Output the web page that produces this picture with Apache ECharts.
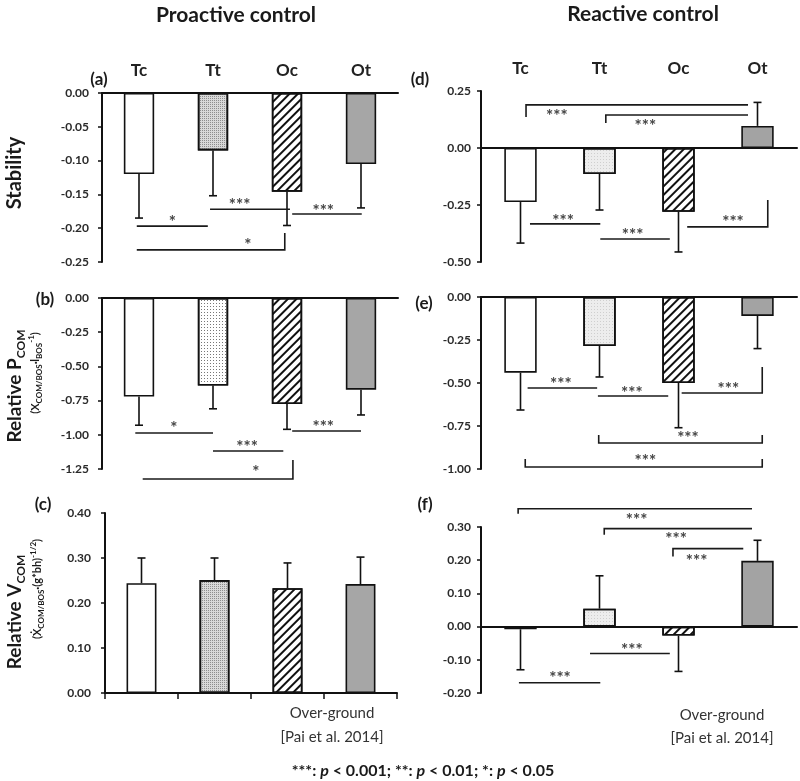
<!DOCTYPE html>
<html><head><meta charset="utf-8">
<script src="https://cdn.jsdelivr.net/npm/echarts@6/dist/echarts.min.js"></script>
<style>html,body{margin:0;padding:0;background:#fff}#c{width:800px;height:781px}</style>
</head><body><div id="c"></div>
<script>
// ---------------- DATA ----------------
const categories = ['Tc', 'Tt', 'Oc', 'Ot'];

// bar means and error-bar end points (mean ± SD, drawn away from zero)
const stabilityPro    = [-0.120, -0.085, -0.146, -0.105];
const stabilityProErr = [-0.185, -0.152, -0.196, -0.170];
const pcomPro         = [-0.720, -0.640, -0.775, -0.670];
const pcomProErr      = [-0.930, -0.810, -0.960, -0.855];
const vcomPro         = [0.244, 0.251, 0.233, 0.242];
const vcomProErr      = [0.300, 0.300, 0.289, 0.302];
const stabilityRe     = [-0.237, -0.114, -0.280, 0.097];
const stabilityReErr  = [-0.417, -0.272, -0.456, 0.200];
const pcomRe          = [-0.440, -0.285, -0.500, -0.110];
const pcomReErr       = [-0.657, -0.465, -0.760, -0.300];
const vcomRe          = [-0.008, 0.054, -0.027, 0.198];
const vcomReErr       = [-0.130, 0.153, -0.135, 0.260];

// significance brackets: [xStart, xEnd, y, leftTickEnd, rightTickEnd, labelX, labelY, label]
// x in category units (0 = Tc ... 3 = Ot), y in axis units
const sigA = [
  [-0.03, 0.93, -0.197, -0.197, -0.197, 0.45, -0.185, '*'],
  [0.96, 2.04, -0.172, -0.172, -0.172, 1.36, -0.161, '***'],
  [2.07, 3.01, -0.179, -0.179, -0.179, 2.49, -0.170, '***'],
  [-0.03, 1.97, -0.232, -0.232, -0.207, 1.47, -0.219, '*']
];
const sigB = [
  [-0.05, 1.00, -0.987, -0.987, -0.987, 0.47, -0.928, '*'],
  [1.00, 1.95, -1.118, -1.118, -1.118, 1.46, -1.067, '***'],
  [2.07, 3.00, -0.972, -0.972, -0.972, 2.49, -0.921, '***'],
  [0.05, 2.08, -1.323, -1.323, -1.184, 1.58, -1.250, '*']
];
const sigC = [];
const sigD = [
  [0.07, 2.88, 0.189, 0.136, 0.189, 0.46, 0.154, '***'],
  [1.08, 2.88, 0.145, 0.110, 0.145, 1.58, 0.110, '***'],
  [0.12, 1.01, -0.333, -0.333, -0.333, 0.54, -0.307, '***'],
  [1.01, 1.89, -0.399, -0.399, -0.399, 1.42, -0.368, '***'],
  [2.11, 3.13, -0.346, -0.346, -0.228, 2.69, -0.311, '***']
];
const sigE = [
  [0.09, 0.97, -0.529, -0.529, -0.529, 0.51, -0.488, '***'],
  [0.98, 1.87, -0.576, -0.576, -0.576, 1.41, -0.535, '***'],
  [2.04, 3.06, -0.558, -0.558, -0.407, 2.63, -0.517, '***'],
  [0.99, 3.06, -0.849, -0.802, -0.802, 2.12, -0.797, '***'],
  [0.06, 3.06, -0.988, -0.942, -0.942, 1.58, -0.936, '***']
];
const sigF = [
  [-0.03, 2.93, 0.355, 0.340, 0.355, 1.47, 0.331, '***'],
  [1.06, 2.93, 0.295, 0.277, 0.295, 1.97, 0.274, '***'],
  [1.93, 2.82, 0.235, 0.211, 0.235, 2.23, 0.208, '***'],
  [0.88, 1.89, -0.081, -0.081, -0.081, 1.41, -0.060, '***'],
  [-0.02, 1.01, -0.169, -0.169, -0.169, 0.50, -0.145, '***']
];

// ---------------- STYLE ----------------
const FONT = 'Lato, "Open Sans", sans-serif';
const INK = '#111';
const hatch = {symbol: 'rect', symbolSize: 1, dashArrayX: [1, 0], dashArrayY: [2, 4], rotation: -Math.PI / 4, color: '#111'};
const dotsDense = {symbol: 'rect', symbolSize: 1, dashArrayX: [1, 1], dashArrayY: [1, 1], color: 'rgba(80,80,80,0.55)'};
const dotsSparse = {symbol: 'rect', symbolSize: 1, dashArrayX: [1, 2], dashArrayY: [1, 2], color: '#777'};
const dotsLight = {symbol: 'rect', symbolSize: 1, dashArrayX: [1, 2], dashArrayY: [1, 2], color: '#cfcfcf'};

const fillsDense = [{color: '#fff'}, {color: '#d8d8d8', decal: dotsDense}, {color: '#fff', decal: hatch}, {color: '#a6a6a6'}];
const fillsSparse = [{color: '#fff'}, {color: '#fff', decal: dotsSparse}, {color: '#fff', decal: hatch}, {color: '#a6a6a6'}];
const fillsLight = [{color: '#fff'}, {color: '#ededed', decal: dotsLight}, {color: '#fff', decal: hatch}, {color: '#a3a3a3'}];

const panels = [
  {grid: {left: 102, top: 93, width: 296, height: 169}, min: -0.25, max: 0, interval: 0.05, means: stabilityPro, errs: stabilityProErr, sig: sigA, fills: fillsDense, topLabels: true, xTicks: false, labelMargin: 13},
  {grid: {left: 102, top: 298, width: 296, height: 171}, min: -1.25, max: 0, interval: 0.25, means: pcomPro, errs: pcomProErr, sig: sigB, fills: fillsSparse, topLabels: false, xTicks: false, labelMargin: 13},
  {grid: {left: 105, top: 513, width: 292, height: 180}, min: 0, max: 0.4, interval: 0.1, means: vcomPro, errs: vcomProErr, sig: sigC, fills: fillsDense, topLabels: false, xTicks: true, labelMargin: 14},
  {grid: {left: 481, top: 91, width: 316, height: 171}, min: -0.5, max: 0.25, interval: 0.25, means: stabilityRe, errs: stabilityReErr, sig: sigD, fills: fillsLight, topLabels: true, xTicks: false, labelMargin: 10},
  {grid: {left: 481, top: 297, width: 316, height: 172}, min: -1.0, max: 0, interval: 0.25, means: pcomRe, errs: pcomReErr, sig: sigE, fills: fillsLight, topLabels: false, xTicks: false, labelMargin: 10},
  {grid: {left: 481, top: 527, width: 316, height: 166}, min: -0.2, max: 0.3, interval: 0.1, means: vcomRe, errs: vcomReErr, sig: sigF, fills: fillsLight, topLabels: false, xTicks: false, labelMargin: 10}
];

const grids = [], xAxes = [], yAxes = [], series = [];
panels.forEach((p, i) => {
  grids.push(Object.assign({containLabel: false}, p.grid));
  // main category axis (line at zero)
  xAxes.push({
    type: 'category', gridIndex: i, data: categories, boundaryGap: true,
    axisLine: {show: true, onZero: true, lineStyle: {color: INK, width: 2}},
    axisTick: {show: p.xTicks, length: 6, lineStyle: {color: INK, width: 1.5}},
    axisLabel: {show: false}, splitLine: {show: false}
  });
  // hidden value axis used to place significance brackets
  xAxes.push({type: 'value', gridIndex: i, min: -0.5, max: 3.5, show: false, axisLine: {onZero: false}});
  // top labels
  xAxes.push({
    type: 'category', gridIndex: i, data: categories, position: 'top', show: p.topLabels,
    axisLine: {show: false, onZero: false}, axisTick: {show: false},
    axisLabel: {margin: 14, fontSize: 17, fontWeight: 'bold', color: '#222', fontFamily: FONT}
  });
  yAxes.push({
    type: 'value', gridIndex: i, min: p.min, max: p.max, interval: p.interval,
    axisLine: {show: true, onZero: false, lineStyle: {color: INK, width: 2}},
    axisTick: {show: true, length: 4, lineStyle: {color: INK, width: 1.5}},
    splitLine: {show: false},
    axisLabel: {formatter: v => v.toFixed(2), fontSize: 12, fontWeight: 'bold', color: '#2a2a2a', fontFamily: FONT, margin: p.labelMargin}
  });
  series.push({
    type: 'bar', xAxisIndex: 3 * i, yAxisIndex: i, barWidth: '41%', silent: true,
    itemStyle: {borderColor: INK, borderWidth: 1.6},
    data: p.means.map((v, k) => ({value: v, itemStyle: Object.assign({borderColor: INK, borderWidth: 1.6}, p.fills[k])}))
  });
  series.push({
    type: 'custom', xAxisIndex: 3 * i, yAxisIndex: i, silent: true, z: 3,
    data: p.means.map((m, k) => [k, m, p.errs[k]]),
    encode: {x: 0, y: [1, 2]},
    renderItem: (params, api) => {
      const a = api.coord([api.value(0), api.value(1)]);
      const b = api.coord([api.value(0), api.value(2)]);
      return {type: 'group', children: [
        {type: 'line', shape: {x1: a[0], y1: a[1], x2: b[0], y2: b[1]}, style: {stroke: INK, lineWidth: 1.6}},
        {type: 'line', shape: {x1: b[0] - 4, y1: b[1], x2: b[0] + 4, y2: b[1]}, style: {stroke: INK, lineWidth: 1.6}}
      ]};
    }
  });
  if (p.sig.length) {
    const sig = p.sig;
    series.push({
      type: 'custom', xAxisIndex: 3 * i + 1, yAxisIndex: i, silent: true, clip: false, z: 4,
      data: sig.map(s => [s[0], s[2]]),
      encode: {x: 0, y: 1},
      renderItem: (params, api) => {
        const s = sig[params.dataIndex];
        const pts = [api.coord([s[0], s[3]]), api.coord([s[0], s[2]]), api.coord([s[1], s[2]]), api.coord([s[1], s[4]])];
        const t = api.coord([s[5], s[6]]);
        return {type: 'group', children: [
          {type: 'polyline', shape: {points: pts}, style: {stroke: '#1a1a1a', lineWidth: 1.6, fill: null}},
          {type: 'text', x: t[0], y: t[1] + 4, style: {text: s[7], font: 'bold 17px ' + FONT, fill: '#444', align: 'center', verticalAlign: 'middle'}}
        ]};
      }
    });
  }
});

function txt(x, y, text, font, extra) {
  return Object.assign({type: 'text', x: x, y: y, silent: true,
    style: {text: text, font: font, fill: '#1a1a1a', align: 'center', verticalAlign: 'middle'}}, extra || {});
}
const boldF = s => 'bold ' + s + 'px ' + FONT;
const subRich = {
  s: {fontSize: 8, fontFamily: FONT, fontWeight: 'bold', fill: '#1a1a1a', verticalAlign: 'bottom', lineHeight: 16},
  p: {fontSize: 8, fontFamily: FONT, fontWeight: 'bold', fill: '#1a1a1a', verticalAlign: 'top', lineHeight: 16},
  n: {fontSize: 11, fontFamily: FONT, fontWeight: 'bold', fill: '#1a1a1a', lineHeight: 16}
};
const mainRich = {
  m: {fontSize: 19, fontFamily: FONT, fontWeight: 'bold', fill: '#1a1a1a', lineHeight: 24},
  s: {fontSize: 12, fontFamily: FONT, fontWeight: 'bold', fill: '#1a1a1a', verticalAlign: 'bottom', lineHeight: 24}
};
const plainF = '15px ' + FONT;
const plain = (x, y, t) => txt(x, y, t, plainF, {style: {text: t, font: plainF, fill: '#333', align: 'center', verticalAlign: 'middle'}});

const graphic = [
  txt(236, 15, 'Proactive control', boldF(21)),
  txt(643, 14, 'Reactive control', boldF(21)),
  txt(99, 80, '(a)', boldF(17)),
  txt(45, 300, '(b)', boldF(17)),
  txt(43, 505, '(c)', boldF(17)),
  txt(420, 80, '(d)', boldF(17)),
  txt(424, 304, '(e)', boldF(17)),
  txt(425, 505, '(f)', boldF(17)),
  txt(15, 173, 'Stability', boldF(20), {rotation: Math.PI / 2}),
  {type: 'text', x: 15, y: 386, rotation: Math.PI / 2, silent: true,
    style: {text: '{m|Relative P}{s|COM}', rich: mainRich, align: 'center', verticalAlign: 'middle'}},
  {type: 'text', x: 35, y: 373, rotation: Math.PI / 2, silent: true,
    style: {text: '{n|(X}{s|COM/BOS}{n|·l}{s|BOS}{p|-1}{n|)}', rich: subRich, align: 'center', verticalAlign: 'middle'}},
  {type: 'text', x: 15, y: 612, rotation: Math.PI / 2, silent: true,
    style: {text: '{m|Relative V}{s|COM}', rich: mainRich, align: 'center', verticalAlign: 'middle'}},
  {type: 'text', x: 37, y: 589, rotation: Math.PI / 2, silent: true,
    style: {text: '{n|(Ẋ}{s|COM/BOS}{n|·(g*bh)}{p|-1/2}{n|)}', rich: subRich, align: 'center', verticalAlign: 'middle'}},
  plain(332, 713, 'Over-ground'),
  plain(332, 737, '[Pai et al. 2014]'),
  plain(722, 715, 'Over-ground'),
  plain(722, 738, '[Pai et al. 2014]'),
  {type: 'text', x: 423, y: 771, silent: true,
    style: {text: '{b|***: }{i|p}{b| < 0.001; **: }{i|p}{b| < 0.01; *: }{i|p}{b| < 0.05}', align: 'center', verticalAlign: 'middle',
      rich: {b: {fontSize: 16, fontWeight: 'bold', fontFamily: FONT, fill: '#1a1a1a'}, i: {fontSize: 16, fontWeight: 'bold', fontStyle: 'italic', fontFamily: FONT, fill: '#1a1a1a'}}}}
];

const chart = echarts.init(document.getElementById('c'), null, {renderer: 'canvas'});
chart.setOption({
  animation: false,
  backgroundColor: '#fff',
  textStyle: {fontFamily: FONT},
  grid: grids, xAxis: xAxes, yAxis: yAxes, series: series, graphic: graphic
});
</script></body></html>
